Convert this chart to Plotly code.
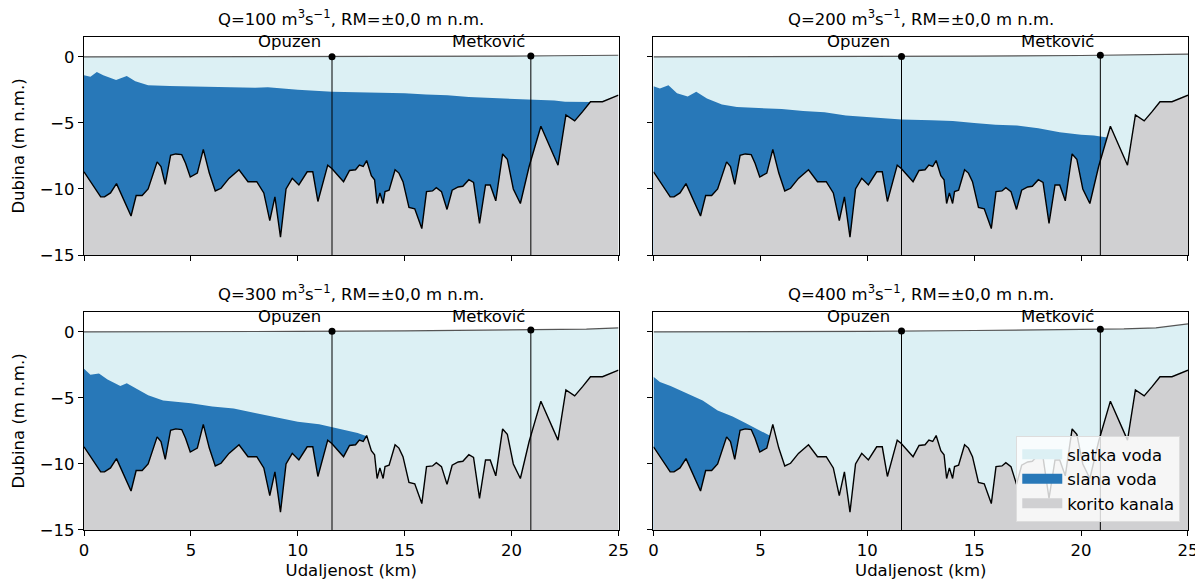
import plotly.graph_objects as go
from plotly.subplots import make_subplots

# ---------------- data ----------------
bed_x = [0, 0.31, 0.78, 0.96, 1.24, 1.52, 2.2, 2.44, 2.72, 3.0, 3.42, 3.6, 3.8, 4.05, 4.29,
         4.57, 4.75, 4.97, 5.3, 5.58, 5.86, 6.14, 6.41, 6.78, 7.25, 7.67, 8.08, 8.41, 8.69,
         8.93, 9.19, 9.45, 9.74, 10.05, 10.44, 10.7, 10.94, 11.4, 11.59, 12.14, 12.42, 12.7,
         12.88, 13.06, 13.22, 13.44, 13.59, 13.71, 13.84, 13.99, 14.08, 14.27, 14.55, 14.73,
         14.92, 15.2, 15.47, 15.8, 16.02, 16.3, 16.48, 16.72, 16.98, 17.22, 17.5, 17.72, 18.0,
         18.22, 18.5, 18.78, 19.0, 19.26, 19.58, 19.8, 20.08, 20.41, 20.82, 21.37, 21.84,
         22.17, 22.54, 22.95, 23.32, 23.69, 24.25, 24.71, 25.0]
bed_y = [-8.7, -9.45, -10.6, -10.6, -10.3, -9.6, -12.05, -10.5, -10.5, -10.0, -7.95, -8.3,
         -9.65, -7.45, -7.35, -7.4, -8.05, -9.1, -8.8, -7.0, -8.8, -10.15, -9.95, -9.2, -8.55,
         -9.45, -9.45, -10.3, -12.4, -10.6, -13.65, -10.0, -9.2, -9.7, -8.7, -8.7, -10.95,
         -8.2, -8.45, -9.45, -8.6, -8.55, -8.2, -8.3, -7.85, -9.0, -9.3, -11.1, -10.3, -11.1,
         -10.2, -10.1, -8.55, -8.8, -9.45, -11.4, -11.5, -13.0, -10.2, -10.15, -9.9, -10.2,
         -11.55, -10.1, -9.85, -9.8, -9.3, -9.5, -12.6, -9.7, -9.7, -10.9, -7.35, -7.75, -10.0,
         -11.1, -8.3, -5.25, -7.0, -8.2, -4.4, -4.85, -4.15, -3.4, -3.4, -3.1, -2.9]

surf_x = [0, 5, 10, 15, 20, 22, 23.5, 25]
surface = {
    100: [0, 0, 0, 0.02, 0.05, 0.08, 0.1, 0.12],
    200: [0, 0, 0.02, 0.05, 0.1, 0.13, 0.16, 0.2],
    300: [0, 0, 0.03, 0.07, 0.12, 0.16, 0.2, 0.3],
    400: [0, 0.01, 0.04, 0.1, 0.17, 0.22, 0.3, 0.6],
}

iface_x = {
    100: [0, 0.3, 0.6, 0.9, 1.5, 2.0, 2.4, 3.0, 4, 5, 6, 7, 8, 8.6, 10, 11.6, 13, 14, 15, 16,
          17, 18, 19.6, 21, 22, 22.5, 23.69],
    200: [0, 0.3, 0.7, 1.1, 1.6, 2.0, 2.5, 3.2, 3.9, 5, 6, 7, 8, 9, 10, 11.6, 13, 14, 15, 16,
          17, 18, 19, 20, 20.6, 21.22],
    300: [0, 0.3, 0.7, 1.1, 1.7, 2.0, 2.5, 3.0, 3.7, 5, 6, 7, 8, 9, 10, 11, 11.6, 12.3, 12.8,
          13.22],
    400: [0, 0.3, 0.8, 1.2, 1.7, 2.3, 3.0, 3.7, 4.3, 4.8, 5.3, 5.45],
}
iface_y = {
    100: [-1.4, -1.5, -1.15, -1.4, -1.75, -1.45, -1.85, -2.15, -2.2, -2.25, -2.3, -2.35, -2.35,
          -2.3, -2.5, -2.65, -2.7, -2.7, -2.75, -2.85, -2.9, -3.05, -3.15, -3.2, -3.3, -3.4,
          -3.42],
    200: [-2.23, -2.4, -2.15, -2.75, -3.0, -2.65, -3.15, -3.6, -3.8, -3.85, -3.95, -4.1, -4.2,
          -4.45, -4.55, -4.75, -4.8, -4.85, -5.0, -5.15, -5.2, -5.4, -5.7, -5.9, -5.95, -6.1],
    300: [-2.8, -3.25, -3.15, -3.6, -4.1, -3.9, -4.35, -4.8, -5.2, -5.4, -5.65, -5.8, -6.15,
          -6.45, -6.8, -7.0, -7.2, -7.45, -7.65, -7.9],
    400: [-3.4, -3.8, -4.1, -4.4, -4.8, -5.2, -5.95, -6.4, -6.9, -7.3, -7.75, -7.87],
}

discharges = [100, 200, 300, 400]
towns = ["Opuzen", "Metković"]
town_x = [11.6, 20.9]
legend_names = ["slatka voda", "slana voda", "korito kanala"]
Y_MIN, Y_MAX = -15, 1.5
X_MIN, X_MAX = 0, 25
y_ticks = [0, -5, -10, -15]
x_ticks = [0, 5, 10, 15, 20, 25]

FRESH = "#dcf0f4"
SALT = "#2878b8"
BED = "#d0d0d2"
FONT = "DejaVu Sans"
FS = 16.5

# ---------------- figure ----------------
fig = make_subplots(rows=2, cols=2, horizontal_spacing=0.0317, vertical_spacing=0.1156)


def closed(xs, ys):
    return list(xs) + [xs[-1], xs[0]], list(ys) + [Y_MIN, Y_MIN]


def interp(xs, ys, x):
    for i in range(len(xs) - 1):
        if xs[i] <= x <= xs[i + 1]:
            t = (x - xs[i]) / (xs[i + 1] - xs[i])
            return ys[i] + t * (ys[i + 1] - ys[i])
    return ys[-1]


positions = [(1, 1), (1, 2), (2, 1), (2, 2)]
for k, (q, (r, c)) in enumerate(zip(discharges, positions)):
    fx, fy = closed(surf_x, surface[q])
    fig.add_trace(go.Scatter(x=fx, y=fy, fill="toself", fillcolor=FRESH, mode="lines",
                             line=dict(width=0), showlegend=False,
                             hoverinfo="skip"), row=r, col=c)
    sx, sy = closed(iface_x[q], iface_y[q])
    fig.add_trace(go.Scatter(x=sx, y=sy, fill="toself", fillcolor=SALT, mode="lines",
                             line=dict(width=0), showlegend=False,
                             hoverinfo="skip"), row=r, col=c)
    bx, by = closed(bed_x, bed_y)
    fig.add_trace(go.Scatter(x=bx, y=by, fill="toself", fillcolor=BED, mode="lines",
                             line=dict(width=0), showlegend=False,
                             hoverinfo="skip"), row=r, col=c)
    fig.add_trace(go.Scatter(x=bed_x, y=bed_y, mode="lines", line=dict(color="black", width=1.4),
                             showlegend=False, hoverinfo="skip"), row=r, col=c)
    fig.add_trace(go.Scatter(x=surf_x, y=surface[q], mode="lines",
                             line=dict(color="#555555", width=1.2),
                             showlegend=False, hoverinfo="skip"), row=r, col=c)
    for name, tx in zip(towns, town_x):
        ty = interp(surf_x, surface[q], tx)
        fig.add_trace(go.Scatter(x=[tx, tx], y=[Y_MIN, ty], mode="lines",
                                 line=dict(color="black", width=1),
                                 showlegend=False, hoverinfo="skip"), row=r, col=c)
        fig.add_trace(go.Scatter(x=[tx], y=[ty], mode="markers",
                                 marker=dict(color="black", size=7),
                                 showlegend=False, hoverinfo="skip"), row=r, col=c)
        fig.add_annotation(x=tx - 2, y=0.3, text=name, showarrow=False, yanchor="bottom",
                           xanchor="center", font=dict(size=FS, color="black", family=FONT),
                           row=r, col=c)
    fig.update_xaxes(range=[X_MIN, X_MAX], tickvals=x_ticks, showticklabels=(r == 2),
                     ticks="outside", ticklen=5, tickcolor="black", showline=True,
                     linecolor="black", linewidth=1.2, mirror=True, showgrid=False,
                     zeroline=False, automargin=False, tickfont=dict(size=FS),
                     row=r, col=c)
    fig.update_yaxes(range=[Y_MIN, Y_MAX], tickvals=y_ticks, showticklabels=(c == 1),
                     ticks="outside", ticklen=5, tickcolor="black", showline=True,
                     linecolor="black", linewidth=1.2, mirror=True, showgrid=False,
                     zeroline=False, automargin=False, tickfont=dict(size=FS),
                     row=r, col=c)
    if r == 2:
        fig.update_xaxes(title=dict(text="Udaljenost (km)", standoff=5,
                                    font=dict(size=FS)), row=r, col=c)
    if c == 1:
        fig.update_yaxes(title=dict(text="Dubina (m n.m.)", standoff=10,
                                    font=dict(size=FS)), row=r, col=c)

# legend entries (drawn in the lower-right panel)
for nm, col in zip(legend_names, [FRESH, SALT, BED]):
    fig.add_trace(go.Scatter(x=[None], y=[None], mode="lines", name=nm,
                             line=dict(color=col, width=12), showlegend=True,
                             hoverinfo="skip"), row=2, col=2)

# subplot titles
for k, q in enumerate(discharges):
    r, c = positions[k]
    xd = fig.get_subplot(r, c).xaxis.domain
    yd = fig.get_subplot(r, c).yaxis.domain
    fig.add_annotation(x=(xd[0] + xd[1]) / 2, y=yd[1], xref="paper", yref="paper",
                       text=f"Q={q} m<sup>3</sup>s<sup>−1</sup>, RM=±0,0 m n.m.",
                       showarrow=False, xanchor="center", yanchor="bottom", yshift=6,
                       font=dict(size=FS, color="black", family=FONT))

# page body has an 8px margin: compensate so the plot sits where the reference has it
fig.update_layout(
    width=1195, height=575,
    margin=dict(l=76, r=15, t=29, b=53, autoexpand=False),
    plot_bgcolor="white", paper_bgcolor="white",
    font=dict(family=FONT, size=FS, color="black"),
    legend=dict(x=0.993, y=0.016, xanchor="right", yanchor="bottom",
                bgcolor="rgba(255,255,255,0.8)", bordercolor="#dddddd", borderwidth=1,
                font=dict(size=FS), tracegroupgap=0, itemwidth=40),
)

fig.write_html("out.html")
